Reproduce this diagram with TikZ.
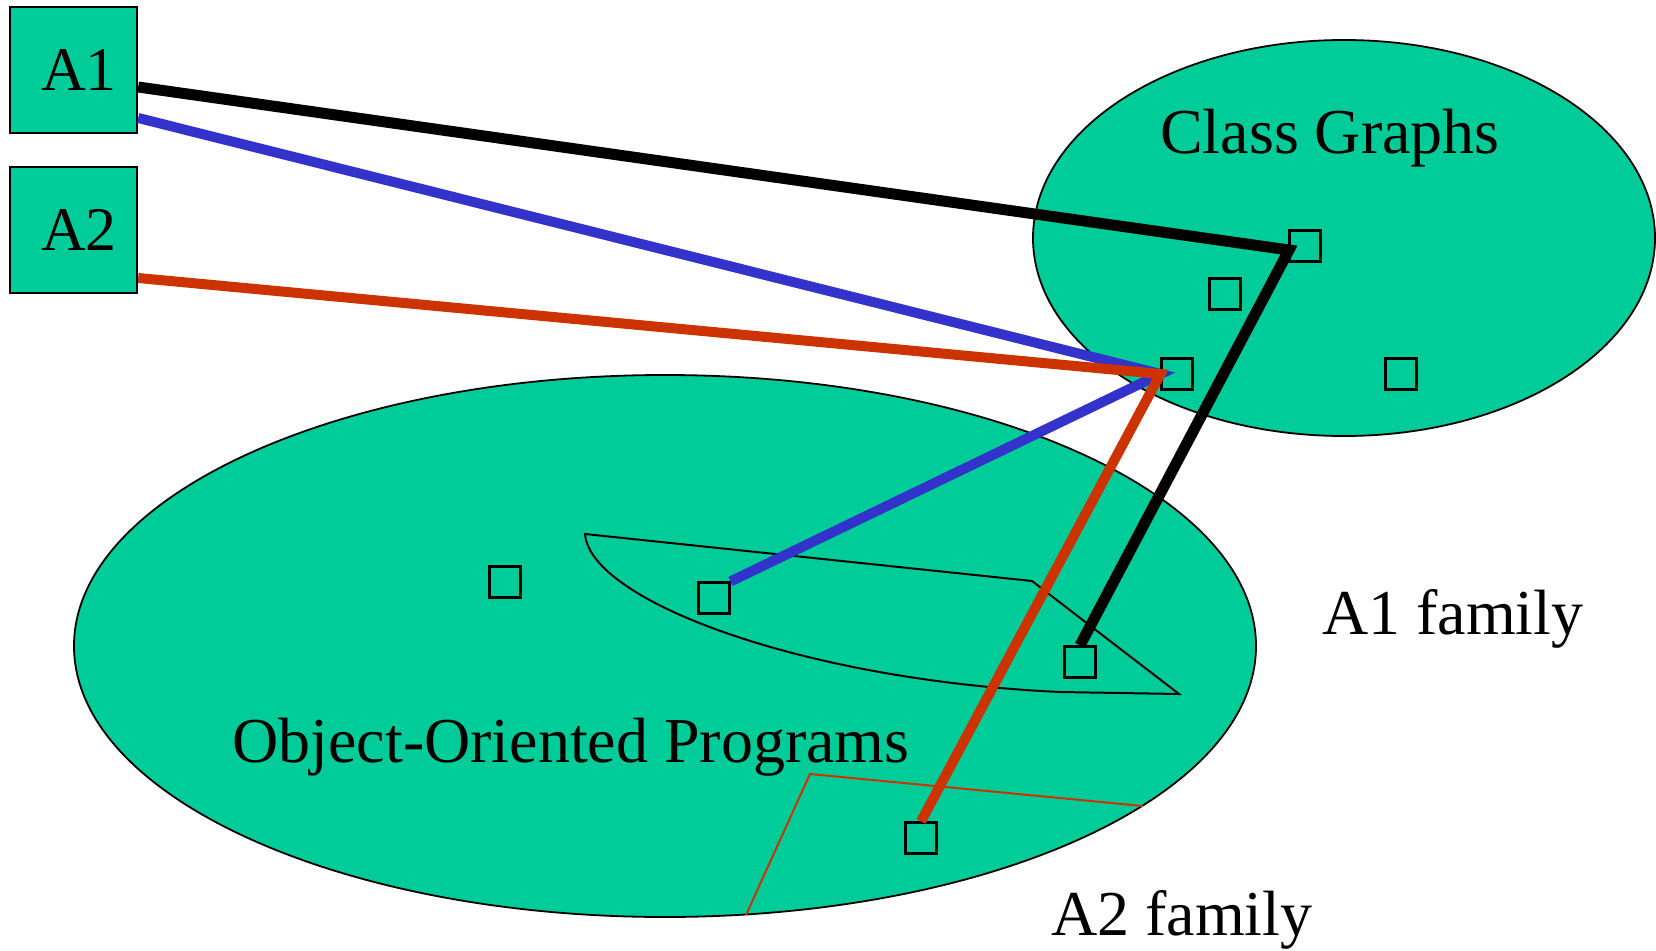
\documentclass[tikz,border=0pt]{standalone}
\usepackage{fontspec}
\setmainfont{Liberation Serif}
\usetikzlibrary{shapes.geometric}
\definecolor{sea}{HTML}{00CC99}
\definecolor{lineblue}{HTML}{3333CC}
\definecolor{linered}{HTML}{CC3300}
\begin{document}
\begin{tikzpicture}[x=1pt,y=-1pt,
  region/.style={ellipse, draw=black, line width=1.8pt, fill=sea, inner sep=0pt},
  appbox/.style={rectangle, draw=black, line width=2.4pt, fill=sea,
    minimum width=127pt, minimum height=126pt, inner sep=0pt},
  apptext/.style={inner sep=0pt, font=\fontsize{62}{70}\selectfont},
  elem/.style={rectangle, draw=black, line width=2.2pt, minimum size=31pt, inner sep=0pt},
  bigtext/.style={inner sep=0pt, anchor=base, font=\fontsize{64}{72}\selectfont},
  link/.style={line width=10pt, line join=miter}
]
\useasboundingbox (0,0) rectangle (1656,950);

% the two regions
\node[region, minimum width=622pt, minimum height=396pt] (cg) at (1344,238) {};
\node[region, minimum width=1182pt, minimum height=542pt] (oop) at (665,646) {};

% families
\draw[line width=2pt, line join=miter] (585,534) -- (1032,581) -- (1179,694) -- (1060,692)
  .. controls (800,680) and (590,600) .. (585,534) -- cycle;
\draw[linered, line width=2pt] (746,915) -- (810,774) -- (1143,806);

% adaptive programs
\node[appbox] (a1) at (73.5,70) {};
\node[appbox] (a2) at (73.5,230) {};
\node[apptext] (a1t) at (79,70) {A1};
\node[apptext] (a2t) at (79,230) {A2};

% class graph elements
\node[elem] (c1) at (1305,246) {};
\node[elem] (c2) at (1225,294) {};
\node[elem] (c3) at (1177,374) {};
\node[elem] (c4) at (1401,374) {};

% program elements
\node[elem] (o1) at (505,582) {};
\node[elem] (o2) at (714,598) {};
\node[elem] (o3) at (1080,662) {};
\node[elem] (o4) at (921,838) {};

\coordinate (j1) at (1289,250);
\coordinate (j2) at (c3.west);

% mappings
\draw[link, lineblue] ([yshift=-48pt]a1.east) -- (j2) -- (o2.north east);
\draw[link, linered] ([yshift=-48pt]a2.east) -- (j2) -- (o4.north);
\draw[link, black, line width=11pt] ([yshift=-17pt]a1.east) -- (j1) -- (o3.north);

% labels
\node[bigtext] (tcg) at (1330,153) {Class Graphs};
\node[bigtext] (toop) at (571,762) {Object-Oriented Programs};
\node[bigtext, anchor=base west] (f1) at (1322,634) {A1 family};
\node[bigtext, anchor=base west] (f2) at (1051,935) {A2 family};
\end{tikzpicture}
\end{document}
